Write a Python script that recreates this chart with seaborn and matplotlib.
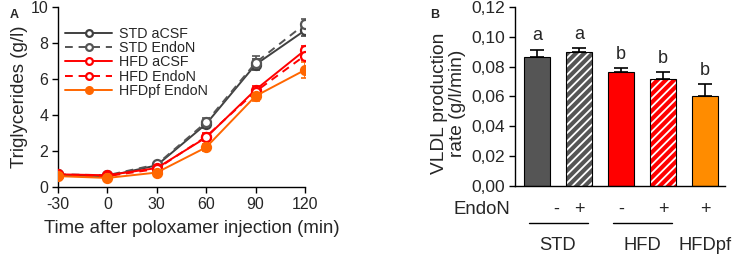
import numpy as np
import pandas as pd
import matplotlib
matplotlib.use("Agg")
import matplotlib.pyplot as plt
import matplotlib.transforms as mtransforms
from matplotlib.colors import to_rgba
import seaborn as sns

# ---------------- data ----------------
time_min = [-30, 0, 30, 60, 90, 120]
std_acsf = [0.65, 0.60, 1.20, 3.50, 6.80, 8.70]
std_acsf_err = [0.05, 0.05, 0.10, 0.20, 0.30, 0.30]
std_endon = [0.70, 0.65, 1.25, 3.60, 6.90, 9.05]
std_endon_err = [0.05, 0.05, 0.10, 0.25, 0.35, 0.30]
hfd_acsf = [0.70, 0.65, 1.05, 2.75, 5.40, 7.60]
hfd_acsf_err = [0.05, 0.05, 0.10, 0.20, 0.20, 0.25]
hfd_endon = [0.65, 0.60, 1.00, 2.80, 5.30, 7.30]
hfd_endon_err = [0.05, 0.05, 0.10, 0.20, 0.20, 0.25]
hfdpf_endon = [0.60, 0.50, 0.80, 2.20, 5.05, 6.50]
hfdpf_endon_err = [0.05, 0.05, 0.10, 0.20, 0.30, 0.45]
series_names = ["STD aCSF", "STD EndoN", "HFD aCSF", "HFD EndoN", "HFDpf EndoN"]

bar_groups = ["STD -", "STD +", "HFD -", "HFD +", "HFDpf +"]
vldl_rate = [0.0865, 0.0898, 0.0762, 0.0717, 0.0602]
vldl_err = [0.0050, 0.0027, 0.0027, 0.0045, 0.0083]
sig_letters = ["a", "a", "b", "b", "b"]
endon_signs = ["-", "+", "-", "+", "+"]
diet_labels = ["STD", "HFD", "HFDpf"]
diet_members = [[0, 1], [2, 3], [4]]

# ---------------- style ----------------
sns.set_theme(style="ticks")
plt.rcParams["font.family"] = ["Liberation Sans", "DejaVu Sans"]
plt.rcParams["hatch.linewidth"] = 1.3
plt.rcParams["axes.unicode_minus"] = False

fig = plt.figure(figsize=(7.37, 2.6), dpi=100)
axA = fig.add_axes([0.0787, 0.281, 0.335, 0.692])
axB = fig.add_axes([0.699, 0.285, 0.285, 0.688])

# ---------------- panel A ----------------
series = [
    (std_acsf, std_acsf_err, "#404040", "-", "white"),
    (std_endon, std_endon_err, "#555555", (0, (4, 3)), "white"),
    (hfd_acsf, hfd_acsf_err, "#ff0000", "-", "white"),
    (hfd_endon, hfd_endon_err, "#ff0000", (0, (4, 3)), "white"),
    (hfdpf_endon, hfdpf_endon_err, "#ff6600", "-", "#ff6600"),
]
for name, (vals, errs, col, ls, mfc) in zip(series_names, series):
    axA.errorbar(time_min, vals, yerr=errs, fmt="none", ecolor=col,
                 elinewidth=1.2, capsize=3.2, capthick=1.2, zorder=2)
    sns.lineplot(x=time_min, y=vals, ax=axA, color=col, linestyle=ls,
                 linewidth=1.4, marker="o", markersize=6.5, mfc=mfc, mec=col,
                 mew=1.6, label=name, zorder=3)

axA.set_xlim(-30, 120)
axA.set_ylim(0, 10)
axA.set_xticks(time_min)
axA.set_yticks([0, 2, 4, 6, 8, 10])
axA.tick_params(labelsize=11.5, length=4, width=1, color="black", pad=3)
for s in ["top", "right"]:
    axA.spines[s].set_visible(False)
for s in ["left", "bottom"]:
    axA.spines[s].set_color("black")
    axA.spines[s].set_linewidth(1)
axA.set_xlabel("Time after poloxamer injection (min)", fontsize=13.4, labelpad=6)
axA.xaxis.label.set_x(0.54)
axA.set_ylabel("Triglycerides (g/l)", fontsize=13.5, labelpad=2)
leg = axA.legend(loc="upper left", bbox_to_anchor=(0.0, 0.93), frameon=False,
                 fontsize=10.3, handlelength=3.3, handletextpad=0.45,
                 labelspacing=0.02, borderaxespad=0.1, markerscale=0.75)
fig.text(0.013, 0.965, "A", fontsize=9, fontweight="bold", va="top")

# ---------------- panel B ----------------
dfB = pd.DataFrame({"group": bar_groups, "rate": vldl_rate})
bar_colors = ["#555555", "#555555", "#ff0000", "#ff0000", "#ff8c00"]
sns.barplot(data=dfB, x="group", y="rate", hue="group", palette=bar_colors,
            legend=False, ax=axB, width=0.62, edgecolor="black", linewidth=0.8,
            saturation=1, errorbar=None)
for i, p in enumerate(axB.patches):
    if endon_signs[i] == "+" and i in (1, 3):
        p.set_hatch("////")
        p._hatch_color = to_rgba("white")
xs = np.arange(len(bar_groups))
axB.errorbar(xs, vldl_rate, yerr=[np.zeros(len(vldl_err)), vldl_err], fmt="none",
             ecolor="black", elinewidth=1.2, capsize=5, capthick=1.2, zorder=1)
for i, (v, e, letter) in enumerate(zip(vldl_rate, vldl_err, sig_letters)):
    axB.text(i, v + e + 0.0035, letter, ha="center", va="bottom", fontsize=13)

axB.set_xlim(-0.52, 4.48)
axB.set_ylim(0, 0.12)
axB.set_yticks(np.arange(0, 0.121, 0.02))
axB.set_yticklabels([f"{t:.2f}".replace(".", ",") for t in np.arange(0, 0.121, 0.02)])
axB.set_xticks([])
axB.set_xlabel("")
axB.tick_params(axis="y", labelsize=12.5, length=4, width=1, color="black", pad=3)
for s in ["top", "right"]:
    axB.spines[s].set_visible(False)
for s in ["left", "bottom"]:
    axB.spines[s].set_color("black")
    axB.spines[s].set_linewidth(1)
axB.set_ylabel("VLDL production\nrate (g/l/min)", fontsize=13.8, labelpad=4,
               linespacing=1.05)
axB.yaxis.label.set_y(0.46)

trans = mtransforms.blended_transform_factory(axB.transData, axB.transAxes)
sign_shift = [0.45, 0, 0, 0, 0]
for i, sgn in enumerate(endon_signs):
    axB.text(i + sign_shift[i], -0.13, sgn, transform=trans, ha="center",
             va="center", fontsize=13)
axB.text(-0.025, -0.13, "EndoN", transform=axB.transAxes, ha="right", va="center",
         fontsize=13.4)
for lab, mem in zip(diet_labels, diet_members):
    c = np.mean(mem)
    if len(mem) > 1:
        axB.plot([mem[0] - 0.2, mem[-1] + 0.22], [-0.21, -0.21], transform=trans,
                 color="black", lw=1, clip_on=False)
    axB.text(c, -0.335, lab, transform=trans, ha="center", va="center",
             fontsize=13.2)
fig.text(0.583, 0.965, "B", fontsize=9, fontweight="bold", va="top")

fig.savefig("out.png", dpi=100)
